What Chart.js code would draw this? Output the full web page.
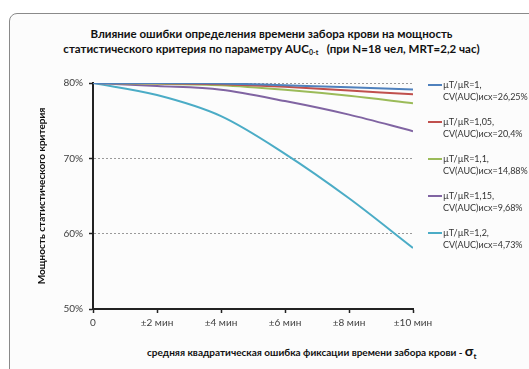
<!DOCTYPE html>
<html><head><meta charset="utf-8">
<script src="https://cdn.jsdelivr.net/npm/chart.js@4"></script>
<style>
html,body{margin:0;padding:0;background:#fff;}
#wrap{position:relative;width:529px;height:369px;overflow:hidden;font-family:Lato,"Liberation Sans",sans-serif;}
#frame{position:absolute;left:9px;top:13px;width:560px;height:420px;border:1px solid #8a8a8a;border-radius:8px;background:#fcfcfc;}
#title{position:absolute;left:0;width:543px;top:26px;text-align:center;font-weight:bold;font-size:11.5px;line-height:15px;color:#111;}
#title sub{font-size:7px;vertical-align:-2px;}
#xtitle{position:absolute;left:147px;top:342px;font-weight:bold;font-size:10px;color:#111;white-space:nowrap;}
#xtitle .sig{font-size:14px;}
#xtitle sub{font-size:8px;vertical-align:-3px;}
canvas{position:absolute;left:0;top:0;}
</style></head>
<body><div id="wrap">
<div id="frame"></div>
<div id="title">Влияние ошибки определения времени забора крови на мощность<br>статистического критерия по параметру AUC<sub>0-t</sub> &nbsp;&nbsp;(при N=18 чел, MRT=2,2 час)</div>
<div id="xtitle">средняя квадратическая ошибка фиксации времени забора крови - <span class="sig">σ</span><sub>t</sub></div>
<canvas id="c" width="529" height="369"></canvas>
</div>
<script>
const minutes = [0,2,4,6,8,10];
const xTickLabels = ["0","±2 мин","±4 мин","±6 мин","±8 мин","±10 мин"];
const series1 = [80,80,79.95,79.7,79.45,79.15];
const series2 = [80,79.98,79.85,79.5,79.0,78.5];
const series3 = [80,79.9,79.7,79.1,78.3,77.3];
const series4 = [80,79.6,79.1,77.6,75.8,73.6];
const series5 = [80,78.4,75.6,70.6,64.7,58.1];
const seriesLabels = [
  ["µT/µR=1,","CV(AUC)исх=26,25%"],
  ["µT/µR=1,05,","CV(AUC)исх=20,4%"],
  ["µT/µR=1,1,","CV(AUC)исх=14,88%"],
  ["µT/µR=1,15,","CV(AUC)исх=9,68%"],
  ["µT/µR=1,2,","CV(AUC)исх=4,73%"]
];
const colors = ["#4F81BD","#C0504D","#9BBB59","#8064A2","#4BACC6"];
const allSeries = [series1,series2,series3,series4,series5];

const legendPlugin = {
  id:'sideLegend',
  afterDraw(chart){
    const ctx = chart.ctx;
    ctx.save();
    ctx.font = '9px Lato, "Liberation Sans", sans-serif';
    ctx.fillStyle = '#333';
    ctx.textBaseline = 'middle';
    chart.data.datasets.forEach((ds,i)=>{
      const y = 85 + i*37;
      ctx.strokeStyle = ds.borderColor; ctx.lineWidth = 2;
      ctx.beginPath(); ctx.moveTo(428,y); ctx.lineTo(442,y); ctx.stroke();
      ds.legendLines.forEach((t,j)=>ctx.fillText(t,443,y+j*11.7));
    });
    ctx.restore();
  }
};

new Chart(document.getElementById('c'),{
  type:'line',
  data:{
    datasets: allSeries.map((s,i)=>({
      label: seriesLabels[i].join(' '),
      legendLines: seriesLabels[i],
      data: s.map((v,k)=>({x:minutes[k],y:v})),
      borderColor: colors[i],
      borderWidth: 2,
      pointRadius: 0,
      cubicInterpolationMode: 'monotone',
      fill:false
    }))
  },
  options:{
    responsive:false,
    animation:false,
    layout:{padding:{top:83,right:116,left:0,bottom:0}},
    plugins:{legend:{display:false},tooltip:{enabled:false}},
    scales:{
      x:{
        type:'linear',min:0,max:10,
        afterFit(s){s.height=60;},
        afterBuildTicks(s){s.ticks=minutes.map(v=>({value:v}));},
        ticks:{callback:(v)=>xTickLabels[minutes.indexOf(v)],maxRotation:0,autoSkip:false,padding:4,color:'#404040',font:{family:'Lato',size:10}},
        grid:{drawOnChartArea:false,drawTicks:true,tickLength:4,tickColor:'#222',tickWidth:1.5},
        border:{color:'#222',width:2}
      },
      y:{
        min:50,max:80,
        afterFit(s){s.width=93;},
        ticks:{stepSize:10,callback:v=>v+'%',padding:6,color:'#404040',font:{family:'Lato',size:10}},
        grid:{color:'#9a9a9a',lineWidth:1,drawTicks:true,tickLength:4,tickColor:'#222',tickWidth:1.5,tickBorderDash:[]},
        border:{color:'#222',width:2,dash:[2,2]},
        title:{display:true,text:'Мощность статистического критерия',color:'#111',font:{family:'Lato',size:10,weight:'bold'},padding:{top:36,bottom:0}}
      }
    }
  },
  plugins:[legendPlugin]
});
</script>
</body></html>
